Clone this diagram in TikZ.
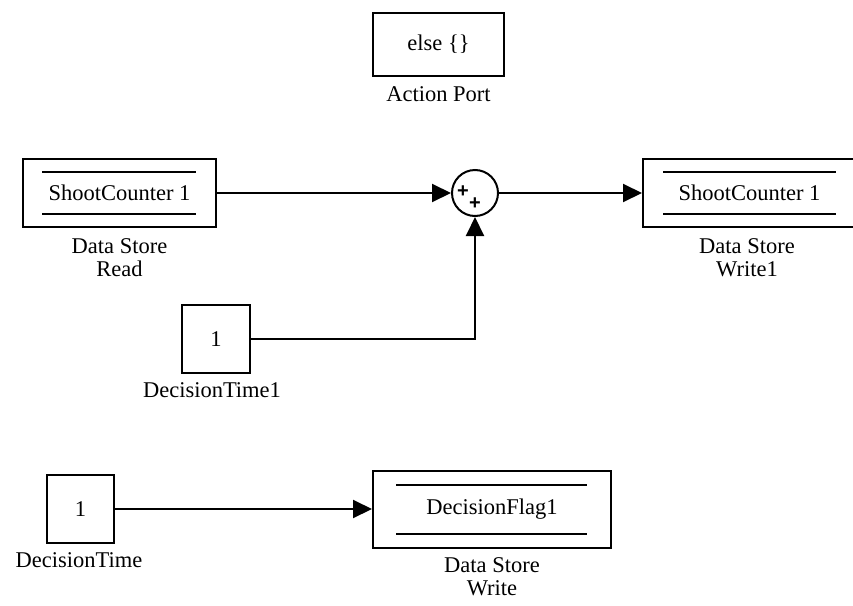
\documentclass[tikz,border=0pt]{standalone}
\usepackage{fontspec}
\setmainfont{Liberation Serif}
\newfontfamily\signfont{Liberation Sans}
\usetikzlibrary{arrows.meta}
\begin{document}
\begin{tikzpicture}[x=1pt,y=-1pt,
  font=\rmfamily\fontsize{22.5}{23}\selectfont,
  blk/.style={draw, rectangle, line width=2pt, inner sep=0pt},
  wire/.style={line width=2pt},
  sig/.style={wire, -{Triangle[length=19pt,width=18pt]}},
  lbl/.style={align=center, inner sep=0pt},
  sign/.style={inner sep=0pt, font=\signfont\bfseries\fontsize{20}{20}\selectfont}]
\useasboundingbox (0,0) rectangle (853,605);

% action port
\node[blk, minimum width=131pt, minimum height=63pt] (act) at (438.5,44.5) {else \{\}};
\node[lbl] (actl) at (438.5,94) {Action Port};

% data store read
\node[blk, minimum width=193pt, minimum height=68pt] (dsr) at (119.5,193) {ShootCounter 1};
\draw[wire] ([xshift=20pt,yshift=-14pt]dsr.north west) -- ([xshift=-21pt,yshift=-14pt]dsr.north east);
\draw[wire] ([xshift=20pt,yshift=14pt]dsr.south west) -- ([xshift=-21pt,yshift=14pt]dsr.south east);
\node[lbl] (dsrl) at (119.5,258) {Data Store\\Read};

% sum block
\node[draw, circle, line width=2pt, minimum size=46pt, inner sep=0pt] (sum) at (475,193) {};
\node[sign] (sumA) at (463,192) {+};
\node[sign] (sumB) at (475,204) {+};

% data store write1
\node[blk, minimum width=213pt, minimum height=68pt] (dsw) at (749.5,193) {ShootCounter 1};
\draw[wire] ([xshift=21pt,yshift=-14pt]dsw.north west) -- ([xshift=-21pt,yshift=-14pt]dsw.north east);
\draw[wire] ([xshift=21pt,yshift=14pt]dsw.south west) -- ([xshift=-21pt,yshift=14pt]dsw.south east);
\node[lbl] (dswl) at (747,258) {Data Store\\Write1};

% constant DecisionTime1
\node[blk, minimum width=68pt, minimum height=68pt] (dt1) at (216,339) {1};
\node[lbl] (dt1l) at (212,390) {DecisionTime1};

% constant DecisionTime
\node[blk, minimum width=67pt, minimum height=68pt] (dt) at (80.5,509) {1};
\node[lbl] (dtl) at (79,560) {DecisionTime};

% data store write
\node[blk, minimum width=238pt, minimum height=77pt] (dsf) at (492,509.5) {DecisionFlag1};
\draw[wire] ([xshift=24pt,yshift=-15pt]dsf.north west) -- ([xshift=-25pt,yshift=-15pt]dsf.north east);
\draw[wire] ([xshift=24pt,yshift=15pt]dsf.south west) -- ([xshift=-25pt,yshift=15pt]dsf.south east);
\node[lbl] (dsfl) at (492,577) {Data Store\\Write};

% signal lines
\draw[sig] (dsr.east) -- (sum.west);
\draw[sig] (sum.east) -- (dsw.west);
\draw[sig] (dt1.east) -| (sum.south);
\draw[sig] (dt.east) -- (dt.east -| dsf.west);
\end{tikzpicture}
\end{document}
